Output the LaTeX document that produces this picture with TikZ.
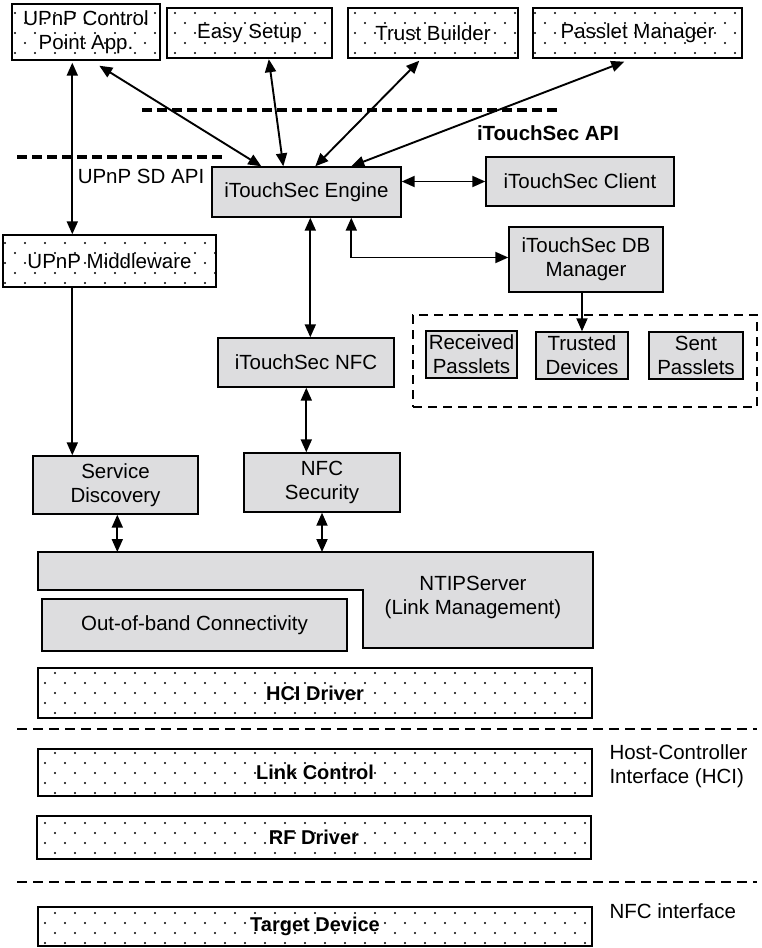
\documentclass[tikz,border=0pt]{standalone}
\usepackage{fontspec}
\setmainfont{Liberation Sans}
\usetikzlibrary{arrows.meta,patterns,calc}

% staggered sparse dot fill used for the plain software blocks
\pgfdeclarepatternformonly{sparsedots}{\pgfpoint{-1pt}{-1pt}}{\pgfpoint{21pt}{21pt}}{\pgfpoint{20pt}{20pt}}{%
  \pgfpathcircle{\pgfpoint{5pt}{5pt}}{1.15pt}%
  \pgfpathcircle{\pgfpoint{15pt}{15pt}}{1.15pt}%
  \pgfusepath{fill}}

\definecolor{boxgray}{RGB}{221,221,223}
\newcommand\boxfont{\fontsize{20.5}{24}\selectfont}
\newcommand\layerfont{\fontsize{20}{24}\selectfont\bfseries}

\tikzset{
  gbox/.style={draw, line width=1.4pt, fill=boxgray, inner sep=0pt, align=center, font=\boxfont},
  dbox/.style={draw, line width=1.4pt, pattern=sparsedots, inner sep=0pt, align=center, font=\boxfont},
  lbox/.style={dbox, font=\layerfont, minimum width=554pt},
  link/.style={line width=1.9pt, -{Triangle[length=13pt,width=11pt]}},
  dlink/.style={line width=1.9pt, {Triangle[length=13pt,width=11pt]}-{Triangle[length=13pt,width=11pt]}},
  apiline/.style={line width=3.4pt, dash pattern=on 10pt off 5pt},
  layerline/.style={line width=2.2pt, dash pattern=on 10pt off 6pt},
  groupbox/.style={draw, line width=1.6pt, dash pattern=on 9pt off 6pt, inner sep=0pt},
}

\begin{document}
\begin{tikzpicture}[x=1pt,y=-1pt]
\useasboundingbox (0,0) rectangle (761,948);

% applications
\node[dbox, minimum width=148pt, minimum height=56pt] (cp) at (86,32) {UPnP Control\\Point App.};
\node[dbox, line width=2.4pt, minimum width=165pt, minimum height=50pt] (easy) at (249.5,33) {Easy Setup};
\node[dbox, minimum width=170pt, minimum height=50pt] (trust) at (433,33) {Trust Builder};
\node[dbox, minimum width=209pt, minimum height=50pt] (passlet) at (637.5,33) {Passlet Manager};

% API boundaries
\draw[apiline] (142,110) -- (560,110);
\draw[apiline] (17,157) -- (222,157);
\node[font=\boxfont\bfseries] (apilbl) at (548,133) {iTouchSec API};
\node[font=\boxfont] (sdlbl) at (141,176) {UPnP SD API};

% iTouchSec core
\node[gbox, minimum width=189pt, minimum height=50pt] (engine) at (306.5,192) {iTouchSec Engine};
\node[gbox, minimum width=188pt, minimum height=49pt] (client) at (580,181.5) {iTouchSec Client};
\node[gbox, minimum width=154pt, minimum height=65pt] (db) at (586,259.5) {iTouchSec DB\\Manager};
\node[dbox, minimum width=213pt, minimum height=52pt] (mw) at (109.5,261) {UPnP Middleware};
\node[gbox, minimum width=176pt, minimum height=49pt] (nfc) at (306,362.5) {iTouchSec NFC};

% database stores
\node[groupbox, minimum width=344pt, minimum height=92pt] (store) at (585,361) {};
\node[gbox, minimum width=91pt, minimum height=47pt] (recv) at (471.5,354.5) {Received\\Passlets};
\node[gbox, minimum width=92pt, minimum height=47pt] (trusted) at (582,355.5) {Trusted\\Devices};
\node[gbox, minimum width=94pt, minimum height=47pt] (sent) at (696,355.5) {Sent\\Passlets};

% discovery and security
\node[gbox, minimum width=165pt, minimum height=58pt] (sd) at (115.5,485) {Service\\Discovery};
\node[gbox, minimum width=156pt, minimum height=59pt] (nfcsec) at (322,482.5) {NFC\\Security};

% link management
\coordinate (ntipTL) at (38,552);
\draw[line width=1.4pt, fill=boxgray] (ntipTL) -- (593,552) -- (593,648) -- (363,648) -- (363,590) -- (38,590) -- cycle;
\node[font=\boxfont, align=center] (ntip) at (473,597) {NTIPServer\\(Link Management)};
\node[gbox, minimum width=305pt, minimum height=52pt] (oob) at (194.5,625) {Out-of-band Connectivity};

% lower layers
\node[lbox, minimum height=50pt] (hci) at (315,693) {HCI Driver};
\draw[layerline] (17,729) -- (757,729);
\node[lbox, minimum height=47pt] (linkc) at (315,772.5) {Link Control};
\node[font=\boxfont, align=left, anchor=west] (hcilbl) at (606,766) {Host-Controller\\Interface (HCI)};
\node[lbox, minimum height=43pt] (rf) at (314,837.5) {RF Driver};
\draw[layerline] (17,882) -- (757,882);
\node[lbox, minimum height=39pt] (target) at (315,926.5) {Target Device};
\node[font=\boxfont, anchor=west] (nfclbl) at (606,911) {NFC interface};

% connectors
\draw[dlink] ([shift={(88,5)}]cp.south west) -- ([shift={(50,0)}]engine.north west);
\draw[dlink] ([shift={(103,0)}]easy.south west) -- ([shift={(72,0)}]engine.north west);
\draw[dlink] ([shift={(72,2)}]trust.south west) -- ([shift={(104,0)}]engine.north west);
\draw[dlink] ([shift={(92,3)}]passlet.south west) -- ([shift={(140,0)}]engine.north west);
\draw[dlink] ([shift={(61,2)}]cp.south west) -- ([shift={(70,0)}]mw.north west);
\draw[link] ([shift={(70,0)}]mw.south west) -- ([shift={(40,0)}]sd.north west);
\draw[dlink] (engine.east |- client.west) -- (client.west);
\draw[dlink] ([shift={(140,0)}]engine.south west) |- ([shift={(0,-2)}]db.west);
\draw[link] (trusted.north |- db.south) -- (trusted.north);
\draw[dlink] ([shift={(99,0)}]engine.south west) -- ([shift={(93,0)}]nfc.north west);
\draw[dlink] ([shift={(89,0)}]nfc.south west) -- ([shift={(63,0)}]nfcsec.north west);
\coordinate (sdout) at ([shift={(85,0)}]sd.south west);
\draw[dlink] (sdout) -- (sdout |- ntipTL);
\draw[dlink] (nfcsec.south) -- (nfcsec.south |- ntipTL);
\end{tikzpicture}
\end{document}
